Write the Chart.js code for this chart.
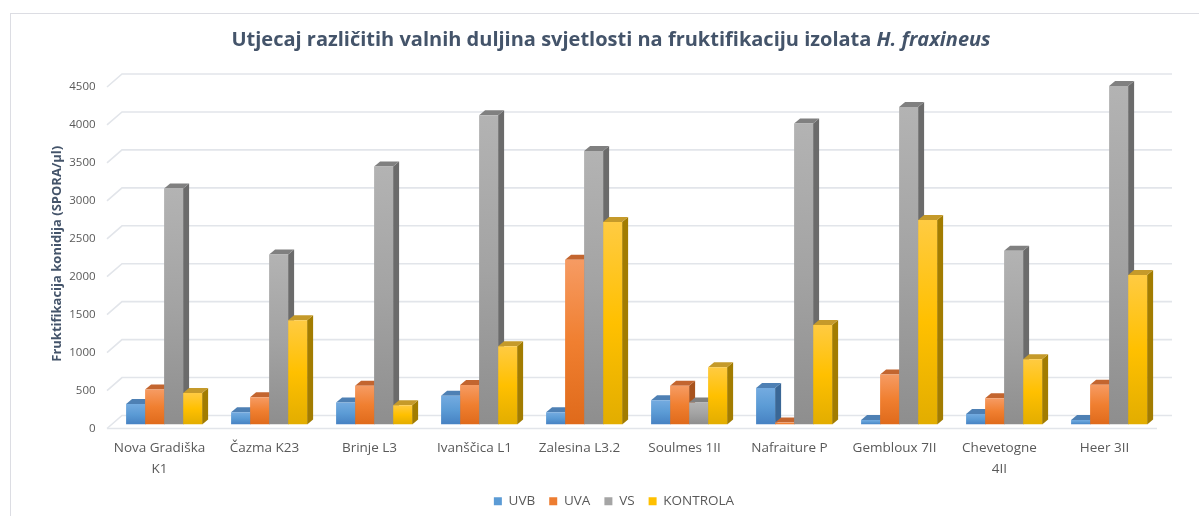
<!DOCTYPE html>
<html>
<head>
<meta charset="utf-8">
<script src="https://cdn.jsdelivr.net/npm/chart.js@4.4.1/dist/chart.umd.min.js"></script>
<style>
  html, body { margin: 0; padding: 0; background: #ffffff; }
  #wrap { width: 1199px; height: 516px; }
</style>
</head>
<body>
<div id="wrap"><canvas id="chart" width="1199" height="516"></canvas></div>
<script>
// Isolates (x categories) and spore counts per light treatment
const categories = [["Nova Gradiška", "K1"], "Čazma K23", "Brinje L3", "Ivanščica L1", "Zalesina L3.2",
                    "Soulmes 1II", "Nafraiture P", "Gembloux 7II", ["Chevetogne", "4II"], "Heer 3II"];
const seriesNames = ["UVB", "UVA", "VS", "KONTROLA"];
const uvb      = [270, 160, 290, 380, 160, 320, 480, 60, 140, 60];
const uva      = [460, 360, 510, 520, 2170, 510, 25, 660, 345, 525];
const vs       = [3110, 2240, 3400, 4075, 3605, 290, 3965, 4185, 2290, 4460];
const kontrola = [415, 1375, 255, 1030, 2670, 755, 1310, 2695, 860, 1970];
const yMin = 0, yMax = 4500, yStep = 500;

const titleMain = "Utjecaj različitih valnih duljina svjetlosti na fruktifikaciju izolata ";
const titleItalic = "H. fraxineus";
const yTitle = "Fruktifikacija konidija (SPORA/µl)";

// Face colours: front gradient (top, middle, bottom), top face, side face
const faces = [
  { front: ["#74ABE0", "#5B9BD5", "#4681C2"], top: "#4E80B4", side: "#3A6796", solid: "#5B9BD5" },
  { front: ["#F69B63", "#F07F30", "#DF6A1B"], top: "#C3652F", side: "#A8531D", solid: "#ED7D31" },
  { front: ["#B3B3B3", "#A3A3A3", "#8E8E8E"], top: "#808080", side: "#6B6B6B", solid: "#A5A5A5" },
  { front: ["#FFCB42", "#FFC000", "#E2AD00"], top: "#C59A2A", side: "#A27C00", solid: "#FFC000" }
];

// Depth offsets (px) from the bar plane to the front floor edge and to the back wall,
// and the depth of the bars themselves
const frontOff = { x: -4.6, y: 4 };
const backOff = { x: 10.4, y: -9 };
const barDepth = { x: 6, y: -5 };
const gridColor = "#E2E5EA";
const textColor = "#595959";
const titleColor = "#44546A";
const FONT = '"Open Sans", "DejaVu Sans", sans-serif';

function frontFill(i) {
  return (ctx) => {
    const chart = ctx.chart;
    const ys = chart.scales && chart.scales.y;
    if (!chart.chartArea || !ys || ctx.type !== "data" || !ctx.parsed) return faces[i].solid;
    const top = ys.getPixelForValue(ctx.parsed.y);
    const bot = ys.getPixelForValue(0);
    if (!isFinite(top) || !isFinite(bot) || bot - top < 1) return faces[i].solid;
    const g = chart.ctx.createLinearGradient(0, top, 0, bot);
    g.addColorStop(0, faces[i].front[0]);
    g.addColorStop(0.5, faces[i].front[1]);
    g.addColorStop(1, faces[i].front[2]);
    return g;
  };
}

// Outer frame and the title (with an italic species name)
const frameAndTitle = {
  id: "frameAndTitle",
  beforeDraw(chart) {
    const c = chart.ctx;
    c.save();
    c.strokeStyle = "#DCDDE3";
    c.lineWidth = 1;
    c.strokeRect(10.5, 13.5, chart.width + 20, chart.height + 20);
    const fMain = "bold 20px " + FONT;
    const fIt = "italic bold 20px " + FONT;
    c.font = fMain;
    const w1 = c.measureText(titleMain).width;
    c.font = fIt;
    const w2 = c.measureText(titleItalic).width;
    const x0 = 611 - (w1 + w2) / 2;
    c.fillStyle = titleColor;
    c.textBaseline = "middle";
    c.textAlign = "left";
    c.font = fMain;
    c.fillText(titleMain, x0, 40);
    c.font = fIt;
    c.fillText(titleItalic, x0 + w1, 40);
    c.restore();
  }
};

// Back wall gridlines, floor, and the top/side faces of each column
const depth3d = {
  id: "depth3d",
  beforeDatasetsDraw(chart) {
    const c = chart.ctx;
    const ys = chart.scales.y;
    const area = chart.chartArea;
    const fl = area.left + frontOff.x, fr = area.right + frontOff.x;
    const bl = area.left + backOff.x, br = area.right + backOff.x;
    c.save();
    c.strokeStyle = gridColor;
    c.lineWidth = 1.6;
    ys.ticks.forEach((t) => {
      const yp = ys.getPixelForValue(t.value);
      const yf = yp + frontOff.y, yb = yp + backOff.y;
      c.beginPath();
      c.moveTo(fl, yf);
      c.lineTo(bl, yb);
      c.lineTo(br, yb);
      c.stroke();
      if (t.value === yMin) {
        c.beginPath();
        c.moveTo(fl, yf);
        c.lineTo(fr, yf);
        c.stroke();
      }
    });
    // top and side faces, drawn before the front faces so neighbours occlude them
    const n = chart.data.labels.length;
    for (let k = 0; k < n; k++) {
      chart.data.datasets.forEach((ds, i) => {
        const meta = chart.getDatasetMeta(i);
        if (meta.hidden) return;
        const el = meta.data[k];
        if (!el) return;
        const p = el.getProps(["x", "y", "base", "width"], true);
        const l = p.x - p.width / 2, r = p.x + p.width / 2;
        const top = Math.min(p.y, p.base), bot = Math.max(p.y, p.base);
        c.fillStyle = faces[i].side;
        c.beginPath();
        c.moveTo(r, top);
        c.lineTo(r + barDepth.x, top + barDepth.y);
        c.lineTo(r + barDepth.x, bot + barDepth.y);
        c.lineTo(r, bot);
        c.closePath();
        c.fill();
        c.fillStyle = faces[i].top;
        c.beginPath();
        c.moveTo(l, top);
        c.lineTo(r, top);
        c.lineTo(r + barDepth.x, top + barDepth.y);
        c.lineTo(l + barDepth.x, top + barDepth.y);
        c.closePath();
        c.fill();
      });
    }
    c.restore();
  }
};

const seriesValues = [uvb, uva, vs, kontrola];

new Chart(document.getElementById("chart"), {
  type: "bar",
  data: {
    labels: categories,
    datasets: seriesNames.map((name, i) => ({
      label: name,
      data: seriesValues[i],
      backgroundColor: frontFill(i),
      borderWidth: 0,
      categoryPercentage: 0.724,
      barPercentage: 1.0
    }))
  },
  options: {
    responsive: false,
    animation: false,
    devicePixelRatio: 1,
    layout: { padding: { top: 83, left: 66.4, right: 37.4, bottom: -2 } },
    plugins: {
      title: { display: false },
      tooltip: { enabled: false },
      legend: {
        display: true,
        position: "bottom",
        labels: {
          boxWidth: 8,
          boxHeight: 8,
          padding: 14,
          color: textColor,
          font: { family: FONT, size: 13.5 },
          generateLabels(chart) {
            return chart.data.datasets.map((ds, i) => ({
              text: ds.label,
              fillStyle: faces[i].solid,
              strokeStyle: faces[i].solid,
              lineWidth: 0,
              hidden: false,
              datasetIndex: i,
              fontColor: textColor
            }));
          }
        }
      }
    },
    scales: {
      x: {
        grid: { display: false, drawTicks: false },
        border: { display: false },
        ticks: {
          color: textColor,
          font: { family: FONT, size: 13.5, lineHeight: 1.5 },
          padding: 14,
          labelOffset: frontOff.x,
          maxRotation: 0,
          autoSkip: false
        },
        afterFit(s) { s.height = 56; }
      },
      y: {
        min: yMin,
        max: yMax,
        grid: { display: false, drawTicks: false },
        border: { display: false },
        ticks: {
          stepSize: yStep,
          color: textColor,
          font: { family: FONT, size: 11.5 },
          padding: 16,
          labelOffset: frontOff.y,
          callback: (v) => String(v)
        },
        title: {
          display: true,
          text: yTitle,
          color: titleColor,
          font: { family: FONT, size: 13, weight: "bold" },
          padding: { top: -16.6, bottom: 0 }
        },
        afterFit(s) { s.width = 45.2; }
      }
    }
  },
  plugins: [frameAndTitle, depth3d]
});
</script>
</body>
</html>
